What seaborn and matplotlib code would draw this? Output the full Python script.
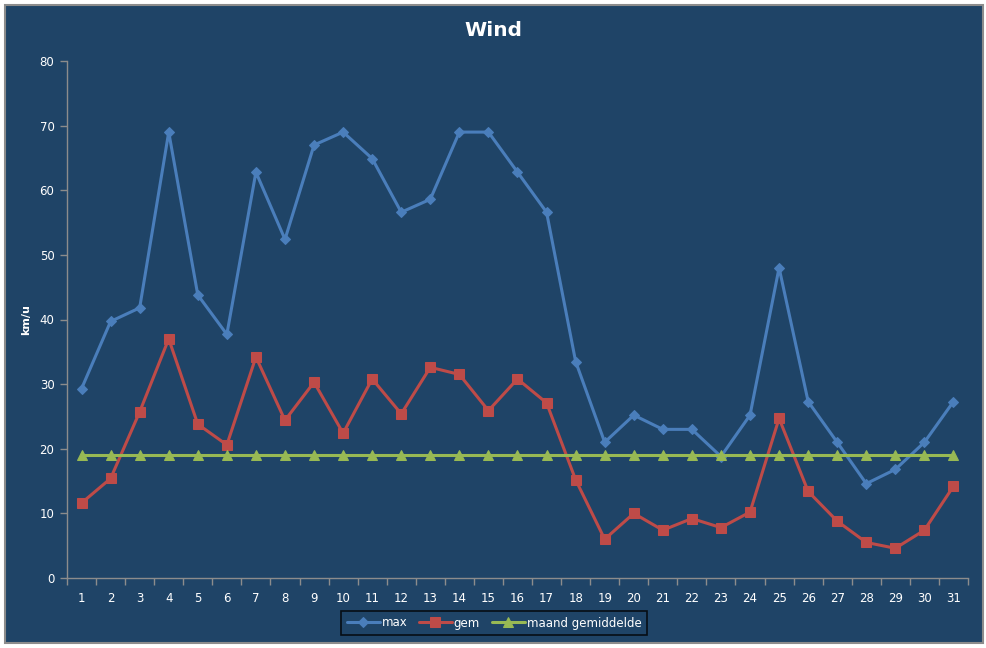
import numpy as np
import pandas as pd
import matplotlib
matplotlib.use("Agg")
import matplotlib.pyplot as plt
import seaborn as sns
from matplotlib.patches import Rectangle

# -------------------------------
# Data
# -------------------------------
days = list(range(1, 32))
max_wind = [29.3, 39.7, 41.8, 69.0, 43.8, 37.7, 62.8, 52.4, 67.0, 69.0,
            64.9, 56.6, 58.6, 69.0, 69.0, 62.8, 56.6, 33.5, 21.0, 25.2,
            23.0, 23.0, 18.8, 25.2, 48.0, 27.3, 21.0, 14.6, 16.8, 21.0, 27.3]
gem_wind = [11.6, 15.4, 25.7, 37.0, 23.8, 20.6, 34.2, 24.4, 30.3, 22.4,
            30.8, 25.4, 32.6, 31.5, 25.9, 30.8, 27.1, 15.2, 6.0, 10.0,
            7.4, 9.2, 7.8, 10.2, 24.7, 13.4, 8.8, 5.5, 4.6, 7.4, 14.2]
maand_gem = [19.0] * 31

BG = "#1F4467"
GRID = "#8C8C8C"
BLUE = "#4A7EBB"
RED = "#BE4B48"
GREEN = "#98B954"

df = pd.DataFrame({"dag": days, "max": max_wind, "gem": gem_wind,
                   "maand gemiddelde": maand_gem})

sns.set_theme(style="white")
plt.rcParams["font.family"] = ["DejaVu Sans"]

fig = plt.figure(figsize=(9.87, 6.48), dpi=100)
fig.patch.set_facecolor("white")
fig.patches.append(Rectangle((5 / 987, 5 / 648), 978 / 987, 638 / 648,
                             transform=fig.transFigure, facecolor=BG,
                             edgecolor=GRID, linewidth=1.5, zorder=-5))

ax = fig.add_axes([67 / 987, 1 - 578 / 648, (968 - 67) / 987, (578 - 61) / 648])
ax.set_facecolor("none")

sns.lineplot(data=df, x="dag", y="max", ax=ax, color=BLUE, linewidth=2.2,
             marker="D", markersize=5, markeredgecolor=BLUE, label="max")
sns.lineplot(data=df, x="dag", y="gem", ax=ax, color=RED, linewidth=2.2,
             marker="s", markersize=6.5, markeredgecolor=RED, label="gem")
sns.lineplot(data=df, x="dag", y="maand gemiddelde", ax=ax, color=GREEN,
             linewidth=2.2, marker="^", markersize=6.5, markeredgecolor=GREEN,
             label="maand gemiddelde")

ax.set_xlim(0.5, 31.5)
ax.set_ylim(0, 80)
ax.set_xticks(days)
ax.set_xticklabels([str(d) for d in days])
ax.set_xticks(np.arange(0.5, 32, 1), minor=True)
ax.set_yticks(range(0, 81, 10))

for side in ["top", "right"]:
    ax.spines[side].set_visible(False)
for side in ["left", "bottom"]:
    ax.spines[side].set_color(GRID)
    ax.spines[side].set_linewidth(1)

ax.tick_params(axis="x", which="major", length=0, pad=10, labelcolor="white",
               labelsize=8.5)
ax.tick_params(axis="x", which="minor", length=5, color=GRID, width=1,
               bottom=True)
ax.tick_params(axis="y", which="major", length=5, color=GRID, width=1,
               left=True, labelcolor="white", labelsize=8.5, pad=4)

ax.set_xlabel("")
ax.set_ylabel("km/u", color="white", fontsize=8, fontweight="bold", labelpad=6)

fig.text(0.5, 1 - 31 / 648, "Wind", color="white", fontsize=14.5,
         fontweight="bold", ha="center", va="center")

ax.get_legend().remove()
handles, labels = ax.get_legend_handles_labels()
leg = fig.legend(handles, labels, loc="center", ncol=3,
                 bbox_to_anchor=(494 / 987, 1 - 623 / 648), frameon=True,
                 fontsize=8.5, handlelength=2.8, columnspacing=1.0,
                 handletextpad=0.15, fancybox=False, borderpad=0.45)
leg.get_frame().set_facecolor(BG)
leg.get_frame().set_edgecolor("black")
leg.get_frame().set_linewidth(1.2)
for t in leg.get_texts():
    t.set_color("white")

fig.savefig("out.png", dpi=100, facecolor=fig.get_facecolor())
